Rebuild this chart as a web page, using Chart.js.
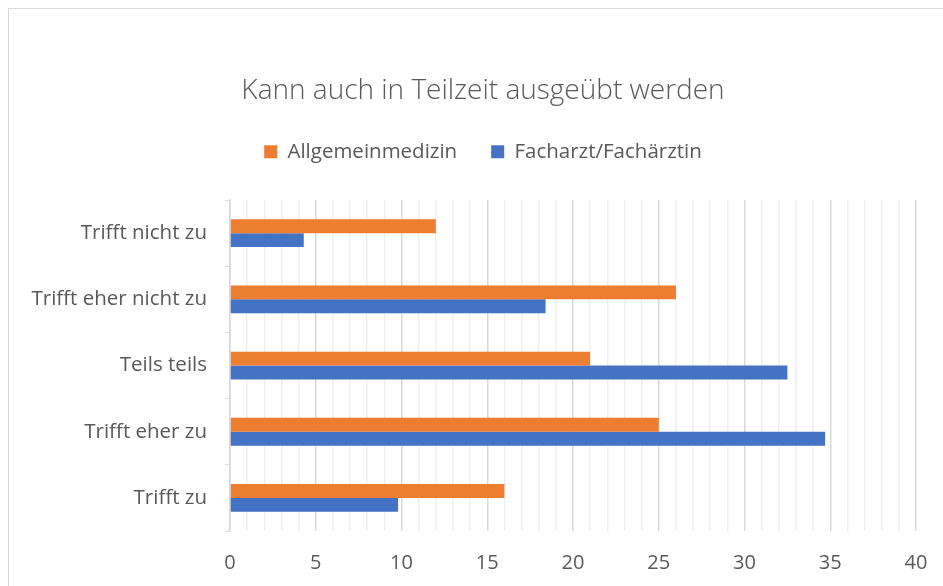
<!DOCTYPE html>
<html lang="de">
<head>
    <meta charset="UTF-8">
    <title>Kann auch in Teilzeit ausgeübt werden</title>
    <script src="https://cdn.jsdelivr.net/npm/chart.js@4.4.1/dist/chart.umd.min.js"></script>
    <style>
        html, body { margin: 0; padding: 0; background: #fff; overflow: hidden; }
        .frame {
            position: absolute;
            left: 8px;
            top: 8px;
            width: 960px;
            height: 600px;
            border: 1px solid #d9d9d9;
        }
        .chart-container {
            position: absolute;
            left: 0;
            top: 0;
            width: 966px;
            height: 586px;
        }
    </style>
</head>
<body>
    <div class="frame"></div>
    <div class="chart-container">
        <canvas id="teilzeitChart"></canvas>
    </div>

    <script>
        // Daten
        const categories = ['Trifft nicht zu', 'Trifft eher nicht zu', 'Teils teils', 'Trifft eher zu', 'Trifft zu'];
        const allgemeinmedizin = [12, 26, 21, 25, 16];
        const facharzt = [4.3, 18.4, 32.5, 34.7, 9.8];
        const xMin = 0;
        const xMax = 40;

        const textColor = '#595959';
        const fontFamily = '"Open Sans", "Noto Sans", sans-serif';

        const chart = new Chart(
            document.getElementById('teilzeitChart'),
            {
                type: 'bar',
                data: {
                    labels: categories,
                    datasets: [
                        {
                            label: 'Allgemeinmedizin',
                            data: allgemeinmedizin,
                            backgroundColor: '#ED7D31',
                            xAxisID: 'x',
                            yAxisID: 'y',
                            barPercentage: 1.0,
                            categoryPercentage: 0.42
                        },
                        {
                            label: 'Facharzt/Fachärztin',
                            data: facharzt,
                            backgroundColor: '#4472C4',
                            xAxisID: 'x',
                            yAxisID: 'y',
                            barPercentage: 1.0,
                            categoryPercentage: 0.42
                        }
                    ]
                },
                options: {
                    indexAxis: 'y',
                    responsive: true,
                    maintainAspectRatio: false,
                    animation: false,
                    layout: {
                        padding: { top: 74, left: 0, right: 0, bottom: 0 }
                    },
                    plugins: {
                        title: {
                            display: true,
                            text: 'Kann auch in Teilzeit ausgeübt werden',
                            color: textColor,
                            font: { family: fontFamily, size: 28, weight: '300' },
                            padding: { top: 0, bottom: 0 },
                            align: 'center'
                        },
                        legend: {
                            display: true,
                            position: 'top',
                            labels: {
                                color: textColor,
                                font: { family: fontFamily, size: 20.5 },
                                boxWidth: 13,
                                boxHeight: 13,
                                padding: 34
                            }
                        },
                        tooltip: { enabled: false }
                    },
                    scales: {
                        y: {
                            afterFit: scale => { scale.width = 230; },
                            ticks: {
                                color: textColor,
                                font: { family: fontFamily, size: 20.5 },
                                padding: 18
                            },
                            grid: {
                                drawOnChartArea: false,
                                drawTicks: true,
                                tickLength: 5,
                                color: '#d9d9d9',
                                offset: true
                            },
                            border: { display: true, color: '#d9d9d9', width: 1.5 }
                        },
                        x: {
                            min: xMin,
                            max: xMax,
                            afterFit: scale => { scale.height = 55; },
                            ticks: {
                                stepSize: 1,
                                autoSkip: false,
                                maxRotation: 0,
                                color: textColor,
                                font: { family: fontFamily, size: 20 },
                                padding: 20,
                                callback: v => (v % 5 === 0 ? v : '')
                            },
                            grid: {
                                drawTicks: false,
                                color: ctx => (ctx.tick && ctx.tick.value % 5 === 0 ? '#d9d9d9' : '#efefef'),
                                lineWidth: 1.5
                            },
                            border: { display: false }
                        },
                        // leere Achsen als Abstand: oben zur Legende, rechts bis zum Rahmen
                        spacerTop: {
                            type: 'linear',
                            axis: 'x',
                            position: 'top',
                            display: true,
                            afterFit: scale => { scale.height = 28; },
                            ticks: { display: false },
                            grid: { display: false },
                            border: { display: false }
                        },
                        spacerRight: {
                            type: 'linear',
                            axis: 'y',
                            position: 'right',
                            display: true,
                            afterFit: scale => { scale.width = 50; },
                            ticks: { display: false },
                            grid: { display: false },
                            border: { display: false }
                        }
                    }
                }
            }
        );
    </script>
</body>
</html>
